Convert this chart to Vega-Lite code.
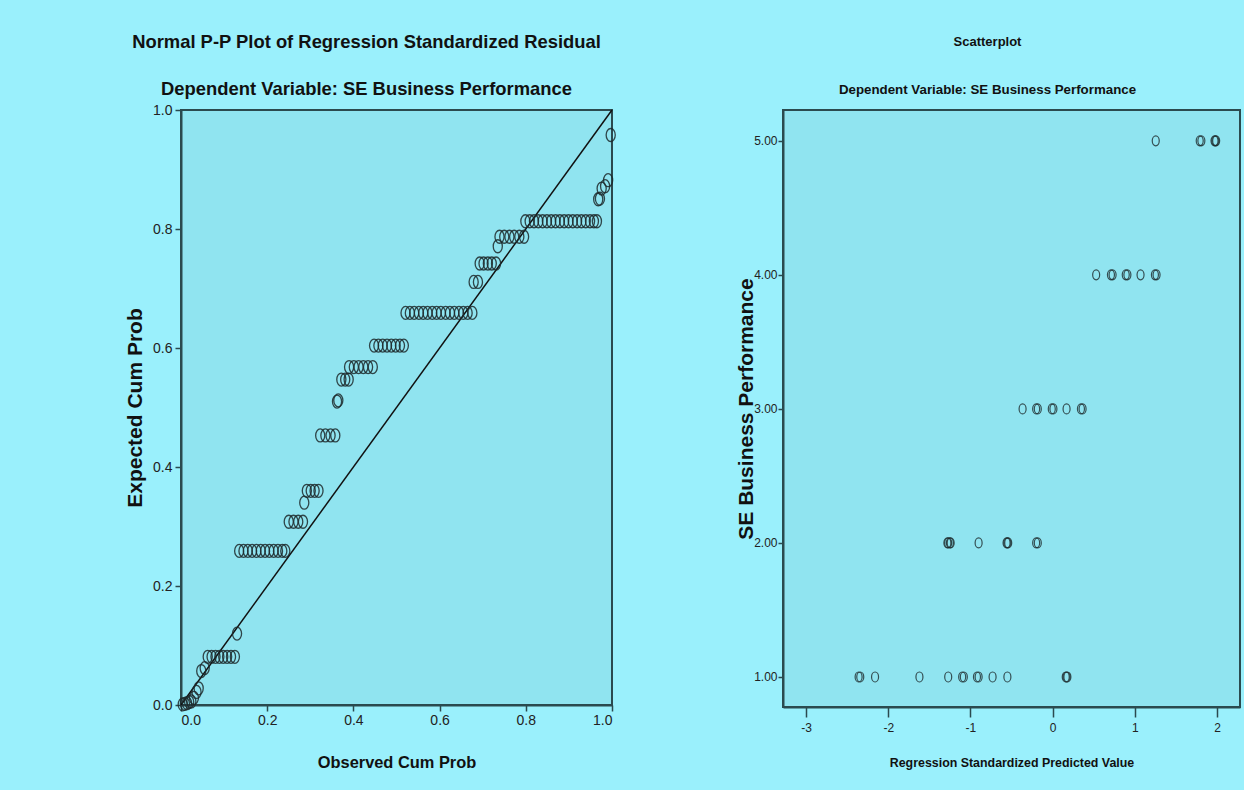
{
  "$schema": "https://vega.github.io/schema/vega-lite/v6.json",
  "background": "#9AF0FC",
  "padding": {"left": 123, "top": 32, "right": 4, "bottom": 18},
  "bounds": "flush",
  "spacing": 171,
  "config": {
    "view": {"fill": "#90E4F0", "stroke": "#2B4A4F", "strokeWidth": 2},
    "axis": {
      "grid": false,
      "domainColor": "#2B4A4F",
      "domainWidth": 2,
      "tickColor": "#2B4A4F",
      "tickWidth": 1.5,
      "labelColor": "#222222",
      "labelFont": "Liberation Sans",
      "titleFont": "Liberation Sans",
      "titleColor": "#111111",
      "titleFontWeight": "bold"
    },
    "title": {"font": "Liberation Sans", "subtitleFont": "Liberation Sans", "fontWeight": "bold", "subtitleFontWeight": "bold", "color": "#111111", "subtitleColor": "#111111", "anchor": "middle"}
  },
  "hconcat": [
    {
      "width": 431,
      "height": 595,
      "title": {"text": "Normal P-P Plot of Regression Standardized Residual", "subtitle": "Dependent Variable: SE Business Performance", "fontSize": 18.4, "subtitleFontSize": 18.4, "dx": -30, "subtitlePadding": 28, "offset": 5},
      "encoding": {
        "x": {"field": "obs", "type": "quantitative", "scale": {"domain": [0, 1], "nice": false, "zero": false},
          "axis": {"values": [0, 0.2, 0.4, 0.6, 0.8, 1], "format": ".1f", "title": "Observed Cum Prob", "titleFontSize": 16.4, "labelFontSize": 14, "tickSize": 6, "labelPadding": 2, "titlePadding": 27}},
        "y": {"field": "exp", "type": "quantitative", "scale": {"domain": [0, 1], "nice": false, "zero": false},
          "axis": {"values": [0, 0.2, 0.4, 0.6, 0.8, 1], "format": ".1f", "title": "Expected Cum Prob", "titleFontSize": 21, "labelFontSize": 14, "tickSize": 6, "labelPadding": 3, "titlePadding": 7}}
      },
      "layer": [
        {
          "data": {"values": [{"obs": 0, "exp": 0}, {"obs": 1, "exp": 1}]},
          "mark": {"type": "line", "color": "#111111", "strokeWidth": 1.5}
        },
        {
          "data": {"values": [
            {"obs": 0.004, "exp": 0.001}, {"obs": 0.009, "exp": 0.002}, {"obs": 0.014, "exp": 0.003}, {"obs": 0.019, "exp": 0.005}, {"obs": 0.024, "exp": 0.006},
            {"obs": 0.030, "exp": 0.012}, {"obs": 0.036, "exp": 0.022}, {"obs": 0.041, "exp": 0.028}, {"obs": 0.047, "exp": 0.057}, {"obs": 0.055, "exp": 0.062},
            {"obs": 0.062, "exp": 0.081}, {"obs": 0.071, "exp": 0.081}, {"obs": 0.080, "exp": 0.081}, {"obs": 0.089, "exp": 0.081}, {"obs": 0.098, "exp": 0.081}, {"obs": 0.107, "exp": 0.081}, {"obs": 0.116, "exp": 0.081}, {"obs": 0.125, "exp": 0.081},
            {"obs": 0.130, "exp": 0.120},
            {"obs": 0.135, "exp": 0.259}, {"obs": 0.145, "exp": 0.259}, {"obs": 0.155, "exp": 0.259}, {"obs": 0.165, "exp": 0.259}, {"obs": 0.175, "exp": 0.259}, {"obs": 0.185, "exp": 0.259}, {"obs": 0.195, "exp": 0.259}, {"obs": 0.205, "exp": 0.259}, {"obs": 0.215, "exp": 0.259}, {"obs": 0.225, "exp": 0.259}, {"obs": 0.235, "exp": 0.259}, {"obs": 0.242, "exp": 0.259},
            {"obs": 0.250, "exp": 0.308}, {"obs": 0.261, "exp": 0.308}, {"obs": 0.272, "exp": 0.308}, {"obs": 0.283, "exp": 0.308},
            {"obs": 0.286, "exp": 0.340},
            {"obs": 0.292, "exp": 0.360}, {"obs": 0.301, "exp": 0.360}, {"obs": 0.310, "exp": 0.360}, {"obs": 0.319, "exp": 0.360},
            {"obs": 0.323, "exp": 0.453}, {"obs": 0.335, "exp": 0.453}, {"obs": 0.347, "exp": 0.453}, {"obs": 0.358, "exp": 0.453},
            {"obs": 0.362, "exp": 0.510}, {"obs": 0.365, "exp": 0.512},
            {"obs": 0.372, "exp": 0.547}, {"obs": 0.381, "exp": 0.547}, {"obs": 0.389, "exp": 0.547},
            {"obs": 0.390, "exp": 0.568}, {"obs": 0.401, "exp": 0.568}, {"obs": 0.412, "exp": 0.568}, {"obs": 0.423, "exp": 0.568}, {"obs": 0.434, "exp": 0.568}, {"obs": 0.445, "exp": 0.568},
            {"obs": 0.448, "exp": 0.604}, {"obs": 0.458, "exp": 0.604}, {"obs": 0.468, "exp": 0.604}, {"obs": 0.478, "exp": 0.604}, {"obs": 0.488, "exp": 0.604}, {"obs": 0.498, "exp": 0.604}, {"obs": 0.508, "exp": 0.604}, {"obs": 0.517, "exp": 0.604},
            {"obs": 0.521, "exp": 0.659}, {"obs": 0.531, "exp": 0.659}, {"obs": 0.541, "exp": 0.659}, {"obs": 0.552, "exp": 0.659}, {"obs": 0.562, "exp": 0.659}, {"obs": 0.572, "exp": 0.659}, {"obs": 0.583, "exp": 0.659}, {"obs": 0.593, "exp": 0.659}, {"obs": 0.603, "exp": 0.659}, {"obs": 0.614, "exp": 0.659}, {"obs": 0.624, "exp": 0.659}, {"obs": 0.634, "exp": 0.659}, {"obs": 0.645, "exp": 0.659}, {"obs": 0.655, "exp": 0.659}, {"obs": 0.665, "exp": 0.659}, {"obs": 0.676, "exp": 0.659},
            {"obs": 0.679, "exp": 0.711}, {"obs": 0.689, "exp": 0.711},
            {"obs": 0.693, "exp": 0.742}, {"obs": 0.702, "exp": 0.742}, {"obs": 0.712, "exp": 0.742}, {"obs": 0.721, "exp": 0.742}, {"obs": 0.731, "exp": 0.742},
            {"obs": 0.735, "exp": 0.771},
            {"obs": 0.739, "exp": 0.787}, {"obs": 0.750, "exp": 0.787}, {"obs": 0.762, "exp": 0.787}, {"obs": 0.773, "exp": 0.787}, {"obs": 0.785, "exp": 0.787}, {"obs": 0.796, "exp": 0.787},
            {"obs": 0.799, "exp": 0.813}, {"obs": 0.809, "exp": 0.813}, {"obs": 0.819, "exp": 0.813}, {"obs": 0.829, "exp": 0.813}, {"obs": 0.839, "exp": 0.813}, {"obs": 0.849, "exp": 0.813}, {"obs": 0.859, "exp": 0.813}, {"obs": 0.869, "exp": 0.813}, {"obs": 0.879, "exp": 0.813}, {"obs": 0.889, "exp": 0.813}, {"obs": 0.899, "exp": 0.813}, {"obs": 0.909, "exp": 0.813}, {"obs": 0.919, "exp": 0.813}, {"obs": 0.929, "exp": 0.813}, {"obs": 0.939, "exp": 0.813}, {"obs": 0.949, "exp": 0.813}, {"obs": 0.958, "exp": 0.813}, {"obs": 0.965, "exp": 0.813},
            {"obs": 0.968, "exp": 0.850}, {"obs": 0.972, "exp": 0.851}, {"obs": 0.976, "exp": 0.868}, {"obs": 0.984, "exp": 0.872}, {"obs": 0.991, "exp": 0.882}, {"obs": 0.997, "exp": 0.958}
          ]},
          "mark": {"type": "point", "shape": "M0,-1A0.7,1,0,1,1,0,1A0.7,1,0,1,1,0,-1Z", "size": 169, "filled": false, "stroke": "#1E2A2C", "strokeWidth": 1.3, "opacity": 0.85}
        }
      ]
    },
    {
      "width": 457,
      "height": 597,
      "title": {"text": "Scatterplot", "subtitle": "Dependent Variable: SE Business Performance", "fontSize": 13, "subtitleFontSize": 13.3, "dx": -24, "subtitlePadding": 34, "offset": 14},
      "data": {"values": [
        {"pred": 1.255, "perf": 5}, {"pred": 1.79, "perf": 5}, {"pred": 1.81, "perf": 5}, {"pred": 1.97, "perf": 5}, {"pred": 1.98, "perf": 5}, {"pred": 1.99, "perf": 5},
        {"pred": 0.53, "perf": 4}, {"pred": 0.71, "perf": 4}, {"pred": 0.73, "perf": 4}, {"pred": 0.89, "perf": 4}, {"pred": 0.91, "perf": 4}, {"pred": 1.07, "perf": 4}, {"pred": 1.245, "perf": 4}, {"pred": 1.265, "perf": 4},
        {"pred": -0.365, "perf": 3}, {"pred": -0.20, "perf": 3}, {"pred": -0.18, "perf": 3}, {"pred": -0.01, "perf": 3}, {"pred": 0.01, "perf": 3}, {"pred": 0.17, "perf": 3}, {"pred": 0.345, "perf": 3}, {"pred": 0.365, "perf": 3},
        {"pred": -1.28, "perf": 2}, {"pred": -1.27, "perf": 2}, {"pred": -1.25, "perf": 2}, {"pred": -1.24, "perf": 2}, {"pred": -0.90, "perf": 2}, {"pred": -0.56, "perf": 2}, {"pred": -0.55, "perf": 2}, {"pred": -0.54, "perf": 2}, {"pred": -0.20, "perf": 2}, {"pred": -0.18, "perf": 2},
        {"pred": -2.36, "perf": 1}, {"pred": -2.34, "perf": 1}, {"pred": -2.16, "perf": 1}, {"pred": -1.62, "perf": 1}, {"pred": -1.27, "perf": 1}, {"pred": -1.10, "perf": 1}, {"pred": -1.08, "perf": 1}, {"pred": -0.92, "perf": 1}, {"pred": -0.90, "perf": 1}, {"pred": -0.73, "perf": 1}, {"pred": -0.55, "perf": 1}, {"pred": 0.16, "perf": 1}, {"pred": 0.17, "perf": 1}, {"pred": 0.18, "perf": 1}
      ]},
      "mark": {"type": "point", "shape": "M0,-1A0.7,1,0,1,1,0,1A0.7,1,0,1,1,0,-1Z", "size": 100, "filled": false, "stroke": "#1E2A2C", "strokeWidth": 1.2, "opacity": 0.8},
      "encoding": {
        "x": {"field": "pred", "type": "quantitative", "scale": {"domain": [-3.28, 2.28], "nice": false, "zero": false},
          "axis": {"values": [-3, -2, -1, 0, 1, 2], "labelExpr": "'' + datum.value", "title": "Regression Standardized Predicted Value", "titleFontSize": 12.4, "labelFontSize": 12, "tickSize": 10, "labelPadding": 5, "titlePadding": 23}},
        "y": {"field": "perf", "type": "quantitative", "scale": {"domain": [0.776, 5.23], "nice": false, "zero": false},
          "axis": {"values": [1, 2, 3, 4, 5], "format": ".2f", "title": "SE Business Performance", "titleFontSize": 21, "labelFontSize": 12, "tickSize": 5, "labelPadding": 1, "titlePadding": -3}}
      }
    }
  ]
}
